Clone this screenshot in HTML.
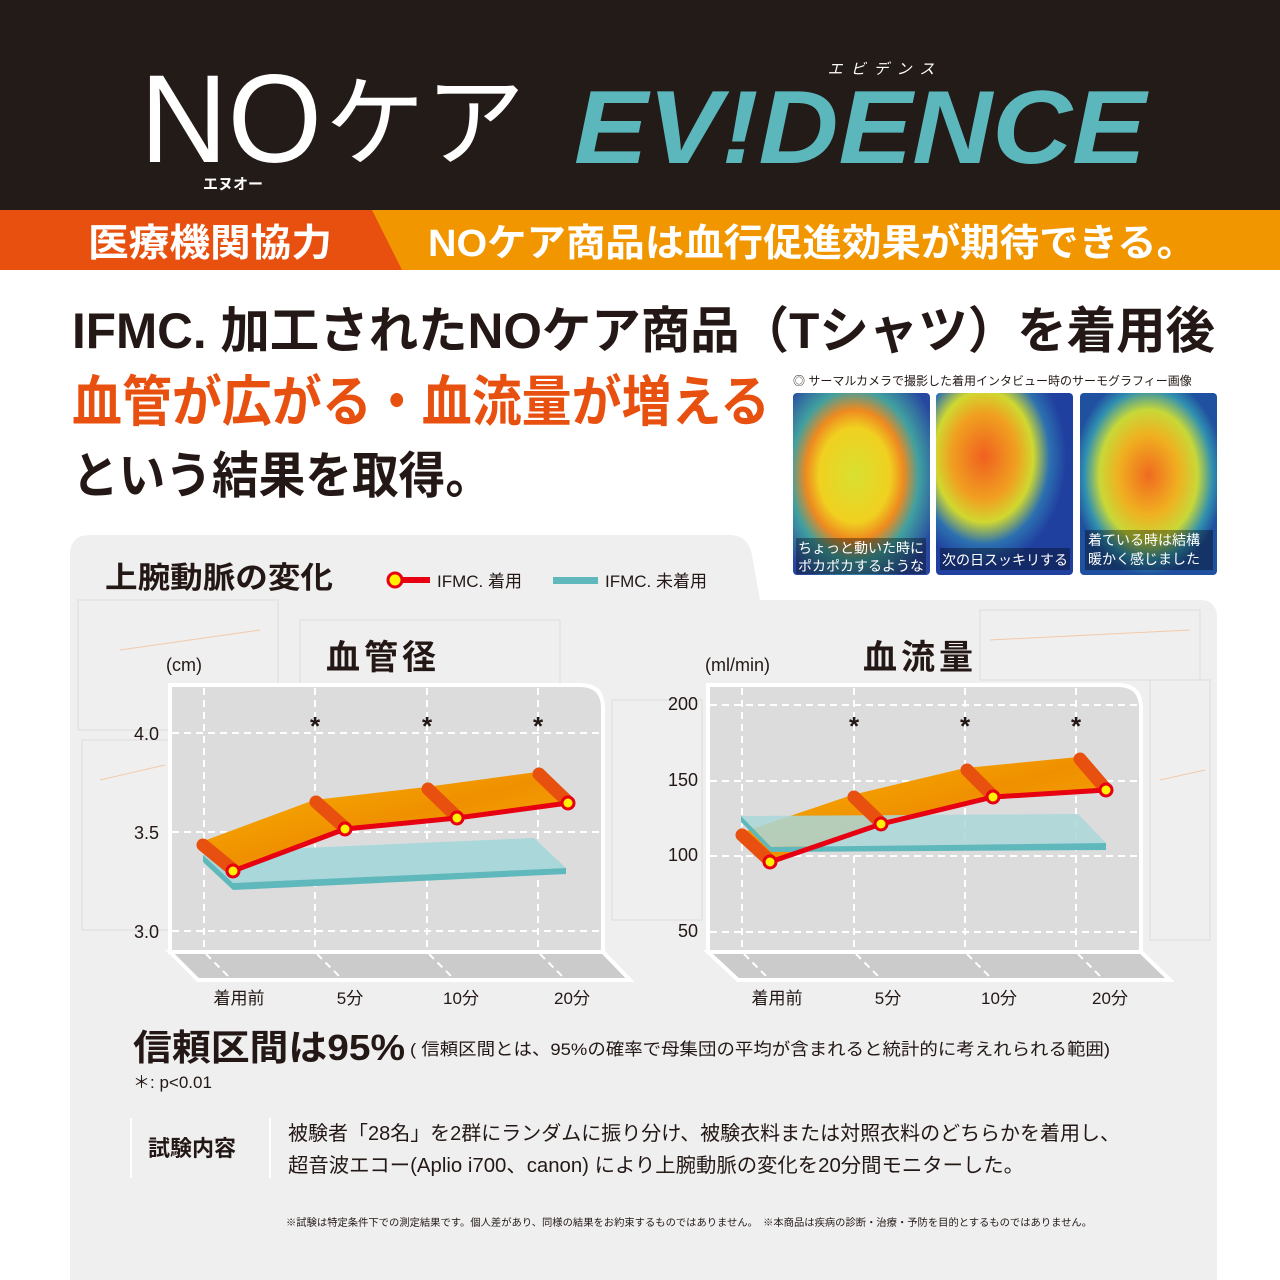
<!DOCTYPE html>
<html><head><meta charset="utf-8">
<style>
html,body{margin:0;padding:0;background:#fff;}
svg{display:block;}
text{font-family:"Liberation Sans","Noto Sans CJK JP",sans-serif;}
</style></head>
<body>
<svg width="1280" height="1280" viewBox="0 0 1280 1280" xmlns="http://www.w3.org/2000/svg">
<defs>
<linearGradient id="rib" x1="0" y1="0" x2="1" y2="1">
<stop offset="0" stop-color="#f6b400"/><stop offset="0.5" stop-color="#f09000"/><stop offset="1" stop-color="#f6b000"/>
</linearGradient>
<radialGradient id="th1" cx="0.45" cy="0.45" r="0.65"><stop offset="0" stop-color="#d8e030"/><stop offset="0.4" stop-color="#f0d020"/><stop offset="0.55" stop-color="#ee8a20"/><stop offset="0.72" stop-color="#40a0a0"/><stop offset="1" stop-color="#2848a0"/></radialGradient>
<radialGradient id="th2" cx="0.35" cy="0.35" r="0.6"><stop offset="0" stop-color="#f06020"/><stop offset="0.4" stop-color="#f0a020"/><stop offset="0.6" stop-color="#d0d830"/><stop offset="0.8" stop-color="#2c70b0"/><stop offset="1" stop-color="#2040a0"/></radialGradient>
<radialGradient id="th3" cx="0.5" cy="0.45" r="0.55"><stop offset="0" stop-color="#f06a20"/><stop offset="0.4" stop-color="#f0b020"/><stop offset="0.65" stop-color="#c8d838"/><stop offset="0.85" stop-color="#3090b0"/><stop offset="1" stop-color="#2050a0"/></radialGradient>
</defs>

<!-- header -->
<rect x="0" y="0" width="1280" height="212" fill="#231b18"/>
<text x="140" y="162" font-size="125" fill="#fff" textLength="182" lengthAdjust="spacingAndGlyphs">NO</text>
<text x="325" y="158" font-size="100" fill="#fff" textLength="200" lengthAdjust="spacingAndGlyphs">ケア</text>
<text x="233" y="189" font-size="15" fill="#fff" font-weight="bold" text-anchor="middle">エヌオー</text>
<text x="574" y="163" font-size="104" fill="#5bb7bc" font-weight="bold" font-style="italic" textLength="572" lengthAdjust="spacingAndGlyphs">EV!DENCE</text>
<text x="885" y="74" font-size="15" fill="#fff" font-style="italic" text-anchor="middle" letter-spacing="8">エビデンス</text>

<!-- band -->
<rect x="0" y="210" width="1280" height="60" fill="#f29600"/>
<polygon points="0,210 372,210 402,270 0,270" fill="#e8500f"/>
<text x="88" y="256" font-size="38" fill="#fff" font-weight="bold" textLength="244" lengthAdjust="spacingAndGlyphs">医療機関協力</text>
<text x="428" y="256" font-size="38" fill="#fff" font-weight="bold" textLength="768" lengthAdjust="spacingAndGlyphs">NOケア商品は血行促進効果が期待できる。</text>

<!-- headline -->
<text x="72" y="348" font-size="50" fill="#231815" font-weight="bold" textLength="1143" lengthAdjust="spacingAndGlyphs">IFMC. 加工されたNOケア商品（Tシャツ）を着用後</text>
<text x="72" y="421" font-size="55" fill="#e8500f" font-weight="bold" textLength="698" lengthAdjust="spacingAndGlyphs">血管が広がる・血流量が増える</text>
<text x="72" y="493" font-size="50" fill="#231815" font-weight="bold" textLength="420" lengthAdjust="spacingAndGlyphs">という結果を取得。</text>

<!-- gray panel -->
<path d="M70,555 Q70,535 90,535 L730,535 Q748,535 752,555 L760,600 L1200,600 Q1217,600 1217,618 L1217,1280 L70,1280 Z" fill="#efefef"/>
<g stroke="#dcdcdc" stroke-width="1" fill="none">
<rect x="78" y="600" width="200" height="130"/><rect x="300" y="620" width="260" height="100"/>
<rect x="82" y="740" width="90" height="190"/><rect x="612" y="700" width="90" height="220"/>
<rect x="1150" y="680" width="60" height="260"/><rect x="980" y="610" width="220" height="70"/>
<line x1="120" y1="650" x2="260" y2="630" stroke="#f3c9a8"/><line x1="100" y1="780" x2="165" y2="765" stroke="#f3c9a8"/>
<line x1="1160" y1="780" x2="1205" y2="770" stroke="#f3c9a8"/><line x1="990" y1="640" x2="1190" y2="630" stroke="#f3c9a8"/>
</g>

<!-- thermal caption & images -->
<text x="793" y="385" font-size="12" fill="#231815">◎ サーマルカメラで撮影した着用インタビュー時のサーモグラフィー画像</text>
<rect x="793" y="393" width="137" height="182" rx="4" fill="url(#th1)"/>
<rect x="936" y="393" width="137" height="182" rx="4" fill="url(#th2)"/>
<rect x="1080" y="393" width="137" height="182" rx="4" fill="url(#th3)"/>
<rect x="796" y="538" width="130" height="36" fill="#000" opacity="0.35"/>
<text x="798" y="553" font-size="14" fill="#fff">ちょっと動いた時に</text>
<text x="798" y="571" font-size="14" fill="#fff">ポカポカするような</text>
<rect x="940" y="548" width="130" height="22" fill="#000" opacity="0.35"/>
<text x="942" y="565" font-size="14" fill="#fff">次の日スッキリする</text>
<rect x="1085" y="530" width="128" height="40" fill="#000" opacity="0.35"/>
<text x="1088" y="545" font-size="14" fill="#fff">着ている時は結構</text>
<text x="1088" y="564" font-size="14" fill="#fff">暖かく感じました</text>

<!-- legend -->
<text x="105" y="588" font-size="30" fill="#231815" font-weight="bold" textLength="228" lengthAdjust="spacingAndGlyphs">上腕動脈の変化</text>
<line x1="395" y1="580" x2="430" y2="580" stroke="#e60012" stroke-width="6"/>
<circle cx="395" cy="580" r="7" fill="#fff100" stroke="#e60012" stroke-width="3"/>
<text x="437" y="587" font-size="17" fill="#231815">IFMC. 着用</text>
<rect x="553" y="577" width="45" height="7" fill="#5fb8bc"/>
<text x="605" y="587" font-size="17" fill="#231815">IFMC. 未着用</text>

<!-- chart titles -->
<text x="383" y="669" font-size="34" fill="#231815" font-weight="bold" text-anchor="middle" letter-spacing="4">血管径</text>
<text x="920" y="669" font-size="34" fill="#231815" font-weight="bold" text-anchor="middle" letter-spacing="4">血流量</text>
<text x="166" y="671" font-size="18" fill="#231815">(cm)</text>
<text x="705" y="671" font-size="18" fill="#231815">(ml/min)</text>

<!-- LEFT CHART -->
<polygon points="170,952 603,952 630,980 198,980" fill="#cbcbcb" stroke="#fff" stroke-width="4"/>
<path d="M170,685 L580,685 Q603,685 603,708 L603,952 L170,952 Z" fill="#dcdcdc" stroke="#fff" stroke-width="4"/>
<g stroke="#fff" stroke-width="2" stroke-dasharray="7,5" fill="none">
<line x1="172" y1="733" x2="601" y2="733"/><line x1="172" y1="832" x2="601" y2="832"/><line x1="172" y1="931" x2="601" y2="931"/>
<line x1="204" y1="688" x2="204" y2="950"/><line x1="315" y1="688" x2="315" y2="950"/><line x1="427" y1="688" x2="427" y2="950"/><line x1="538" y1="688" x2="538" y2="950"/>
<line x1="206" y1="954" x2="230" y2="978"/><line x1="317" y1="954" x2="341" y2="978"/><line x1="429" y1="954" x2="453" y2="978"/><line x1="540" y1="954" x2="564" y2="978"/>
</g>
<g font-size="18" fill="#231815" text-anchor="end"><text x="159" y="740">4.0</text><text x="159" y="839">3.5</text><text x="159" y="938">3.0</text></g>
<g font-size="26" fill="#231815" font-weight="bold" text-anchor="middle"><text x="315" y="735">*</text><text x="427" y="735">*</text><text x="538" y="735">*</text></g>
<polygon points="203,855 303,848 534,838 566,868 233,883" fill="#aad7d9"/>
<polygon points="203,855 233,883 566,868 566,874 233,890 203,862" fill="#5fb8bc"/>
<polygon points="201,842 314,800 426,787 537,772 568,803 457,818 345,829 233,871" fill="url(#rib)"/>
<g stroke="#e8500f" stroke-width="13" stroke-linecap="round">
<line x1="203" y1="845" x2="231" y2="868"/><line x1="316" y1="802" x2="343" y2="826"/><line x1="428" y1="789" x2="455" y2="815"/><line x1="539" y1="774" x2="566" y2="800"/>
</g>
<polyline points="233,871 345,829 457,818 568,803" fill="none" stroke="#e60012" stroke-width="5"/>
<g fill="#fff100" stroke="#e60012" stroke-width="3"><circle cx="233" cy="871" r="6"/><circle cx="345" cy="829" r="6"/><circle cx="457" cy="818" r="6"/><circle cx="568" cy="803" r="6"/></g>
<g font-size="17" fill="#231815" text-anchor="middle"><text x="239" y="1004">着用前</text><text x="350" y="1004">5分</text><text x="461" y="1004">10分</text><text x="572" y="1004">20分</text></g>

<!-- RIGHT CHART -->
<polygon points="708,952 1141,952 1170,980 738,980" fill="#cbcbcb" stroke="#fff" stroke-width="4"/>
<path d="M708,685 L1118,685 Q1141,685 1141,708 L1141,952 L708,952 Z" fill="#dcdcdc" stroke="#fff" stroke-width="4"/>
<g stroke="#fff" stroke-width="2" stroke-dasharray="7,5" fill="none">
<line x1="710" y1="705" x2="1139" y2="705"/><line x1="710" y1="781" x2="1139" y2="781"/><line x1="710" y1="856" x2="1139" y2="856"/><line x1="710" y1="932" x2="1139" y2="932"/>
<line x1="742" y1="688" x2="742" y2="950"/><line x1="854" y1="688" x2="854" y2="950"/><line x1="965" y1="688" x2="965" y2="950"/><line x1="1076" y1="688" x2="1076" y2="950"/>
<line x1="744" y1="954" x2="768" y2="978"/><line x1="856" y1="954" x2="880" y2="978"/><line x1="967" y1="954" x2="991" y2="978"/><line x1="1078" y1="954" x2="1102" y2="978"/>
</g>
<g font-size="18" fill="#231815" text-anchor="end"><text x="698" y="710">200</text><text x="698" y="786">150</text><text x="698" y="861">100</text><text x="698" y="937">50</text></g>
<g font-size="26" fill="#231815" font-weight="bold" text-anchor="middle"><text x="854" y="735">*</text><text x="965" y="735">*</text><text x="1076" y="735">*</text></g>
<polygon points="740,833 852,795 965,768 1078,757 1106,790 993,797 881,824 770,862" fill="url(#rib)"/>
<polygon points="741,816 1078,814 1106,843 771,847" fill="#aad7d9" opacity="0.85"/>
<polygon points="741,816 771,847 1106,843 1106,850 771,852 741,822" fill="#5fb8bc"/>
<g stroke="#e8500f" stroke-width="13" stroke-linecap="round">
<line x1="742" y1="835" x2="768" y2="859"/><line x1="854" y1="797" x2="879" y2="821"/><line x1="967" y1="770" x2="991" y2="794"/><line x1="1080" y1="759" x2="1104" y2="787"/>
</g>
<polyline points="770,862 881,824 993,797 1106,790" fill="none" stroke="#e60012" stroke-width="5"/>
<g fill="#fff100" stroke="#e60012" stroke-width="3"><circle cx="770" cy="862" r="6"/><circle cx="881" cy="824" r="6"/><circle cx="993" cy="797" r="6"/><circle cx="1106" cy="790" r="6"/></g>
<g font-size="17" fill="#231815" text-anchor="middle"><text x="777" y="1004">着用前</text><text x="888" y="1004">5分</text><text x="999" y="1004">10分</text><text x="1110" y="1004">20分</text></g>

<!-- bottom text -->
<text x="133" y="1060" font-size="36" fill="#231815" font-weight="bold" textLength="272" lengthAdjust="spacingAndGlyphs">信頼区間は95%</text>
<text x="410" y="1055" font-size="17" fill="#231815" textLength="700" lengthAdjust="spacingAndGlyphs">( 信頼区間とは、95%の確率で母集団の平均が含まれると統計的に考えれられる範囲)</text>
<text x="133" y="1088" font-size="17" fill="#231815">＊: p&lt;0.01</text>
<line x1="131" y1="1118" x2="131" y2="1178" stroke="#fff" stroke-width="2"/>
<line x1="270" y1="1118" x2="270" y2="1178" stroke="#fff" stroke-width="2"/>
<text x="148" y="1156" font-size="22" fill="#231815" font-weight="bold">試験内容</text>
<text x="288" y="1140" font-size="20" fill="#231815" textLength="832" lengthAdjust="spacingAndGlyphs">被験者「28名」を2群にランダムに振り分け、被験衣料または対照衣料のどちらかを着用し、</text>
<text x="288" y="1172" font-size="20" fill="#231815" textLength="736" lengthAdjust="spacingAndGlyphs">超音波エコー(Aplio i700、canon) により上腕動脈の変化を20分間モニターした。</text>
<text x="286" y="1226" font-size="10" fill="#231815" textLength="806" lengthAdjust="spacingAndGlyphs">※試験は特定条件下での測定結果です。個人差があり、同様の結果をお約束するものではありません。　※本商品は疾病の診断・治療・予防を目的とするものではありません。</text>
</svg>
</body></html>
